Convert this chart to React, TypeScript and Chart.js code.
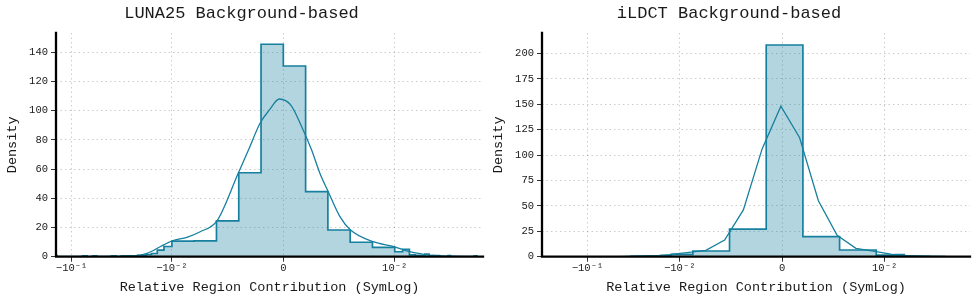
import React, { useEffect, useRef } from 'react';
import { Chart, registerables, LinearScale } from 'chart.js';

// ---------- data ----------
const xTickValues = [-0.1, -0.01, 0, 0.01];
const xTickLabels = ['\u221210\u207B\u00B9', '\u221210\u207B\u00B2', '0', '10\u207B\u00B2'];

const lunaEdges = [-0.142, -0.14, -0.078, -0.07, -0.062, -0.056, -0.04, -0.036, -0.032, -0.022, -0.02, -0.018, -0.016, -0.014, -0.012, -0.01, -0.008, -0.006, -0.004, -0.002, 0, 0.002, 0.004, 0.006, 0.008, 0.01, 0.012, 0.014, 0.016, 0.018, 0.02, 0.022, 0.024, 0.028, 0.034, 0.036, 0.062, 0.066];
const lunaDensity = [0.7, 0, 0.5, 0, 0.5, 0, 0.6, 0, 0.6, 0.9, 1.1, 1.5, 2.2, 4.5, 7.0, 10.6, 10.9, 24.5, 57.5, 145.5, 130.6, 44.5, 18.3, 9.9, 6.4, 3.4, 5.0, 1.2, 1.0, 0.8, 1.8, 0.6, 0.8, 0, 0.8, 0, 0.6];
const lunaKdeX = [-0.142, -0.06, -0.035, -0.0242, -0.0177, -0.0131, -0.00997, -0.00865, -0.00746, -0.00596, -0.00403, -0.00313, -0.00209, -0.00125, -0.00036, 0.00069, 0.00165, 0.00254, 0.00329, 0.00403, 0.00508, 0.00603, 0.00806, 0.01, 0.0141, 0.0222, 0.0352, 0.066];
const lunaKdeY = [0, 0.05, 0.2, 0.5, 2.3, 6.8, 10.8, 13.3, 17.1, 24.5, 57.5, 73, 91.4, 100.5, 108, 103.7, 89, 73, 57, 44.5, 27.4, 18.3, 10.3, 6.8, 3.4, 1.1, 0.3, 0];

const ildctEdges = [-0.03378, -0.0302, -0.02662, -0.02304, -0.01946, -0.01588, -0.0123, -0.00872, -0.00514, -0.00156, 0.00202, 0.0056, 0.00918, 0.01276, 0.01634, 0.01992, 0.0235, 0.02708, 0.03066, 0.03424, 0.03782, 0.0414, 0.04498];
const ildctDensity = [0.3, 0.3, 0.4, 0.5, 0.8, 1.2, 2.2, 5.6, 27.2, 208.2, 19.7, 6.6, 1.6, 2.0, 0.6, 0.4, 0.3, 0.3, 0.2, 0, 0.2, 0.2];
const ildctKdeX = [-0.045, -0.03, -0.0203, -0.0166, -0.0148, -0.0129, -0.0111, -0.0093, -0.00745, -0.00562, -0.00379, -0.00196, -0.00013, 0.0017, 0.00353, 0.00536, 0.00719, 0.00902, 0.01085, 0.01268, 0.01451, 0.0204, 0.03, 0.045];
const ildctKdeY = [0.1, 0.5, 1.0, 1.3, 1.6, 2.0, 2.7, 4.0, 6.2, 16.4, 46, 106, 148, 117, 55, 21, 8.2, 5.2, 3.0, 1.8, 1.2, 0.7, 0.3, 0.1];

// ---------- symlog scale ----------
const LINTHRESH = 0.01;
const LINSCALE = 1 / (1 - 1 / 10);
function fwd(v: number) {
  const a = Math.abs(v);
  return a <= LINTHRESH ? (v / LINTHRESH) * LINSCALE : Math.sign(v) * (LINSCALE + Math.log10(a / LINTHRESH));
}
function inv(t: number) {
  const a = Math.abs(t);
  return a <= LINSCALE ? (t / LINSCALE) * LINTHRESH : Math.sign(t) * LINTHRESH * Math.pow(10, a - LINSCALE);
}

class SymLogScale extends (LinearScale as any) {
  static id = 'symlog';
  static defaults = {};
  buildTicks() {
    return xTickValues.filter((v) => v >= this.min && v <= this.max).map((v) => ({ value: v }));
  }
  getPixelForValue(value: number) {
    const t0 = fwd(this.min), t1 = fwd(this.max);
    return this.getPixelForDecimal((fwd(value) - t0) / (t1 - t0));
  }
  getValueForPixel(pixel: number) {
    const t0 = fwd(this.min), t1 = fwd(this.max);
    return inv(t0 + this.getDecimalForPixel(pixel) * (t1 - t0));
  }
}

Chart.register(...registerables, SymLogScale as any);

const FONT = '"Liberation Mono", "DejaVu Sans Mono", monospace';
const TEAL = '#17809f';
const FILL = 'rgba(23,128,159,0.33)';
const GRID = 'rgba(0,0,0,0.2)';
const TEXT = '#1a1a1a';

const spinePlugin = {
  id: 'spines',
  afterDatasetsDraw(chart: any) {
    const { ctx, chartArea } = chart;
    const { left, right, top, bottom } = chartArea;
    ctx.save();
    ctx.strokeStyle = '#000';
    ctx.lineWidth = 2.3;
    ctx.lineCap = 'square';
    ctx.beginPath();
    ctx.moveTo(left, top);
    ctx.lineTo(left, bottom);
    ctx.lineTo(right, bottom);
    ctx.stroke();
    ctx.restore();
  },
};

type Panel = {
  title: string;
  edges: number[];
  density: number[];
  kdeX: number[];
  kdeY: number[];
  xMin: number;
  xMax: number;
  yMax: number;
  yStep: number;
  yWidth: number;
  padRight: number;
  yTitlePad: number;
  smooth: boolean;
};

function makeChart(canvas: HTMLCanvasElement, p: Panel) {
  const hist = [{ x: p.edges[0], y: 0 }]
    .concat(p.density.map((d, i) => ({ x: p.edges[i], y: d })))
    .concat([{ x: p.edges[p.edges.length - 1], y: 0 }]);
  const kde = p.kdeX.map((x, i) => ({ x, y: p.kdeY[i] }));
  const gridOpts = {
    color: GRID,
    lineWidth: 1,
    tickColor: '#333',
    tickWidth: 1,
    tickLength: 5,
    tickBorderDash: [],
  };
  const borderOpts = { display: false, dash: [1.5, 3] };
  return new Chart(canvas, {
    type: 'line',
    data: {
      datasets: [
        {
          data: hist,
          stepped: true,
          borderColor: TEAL,
          borderWidth: 1.7,
          backgroundColor: FILL,
          fill: 'origin',
          pointRadius: 0,
          order: 2,
        },
        {
          data: kde,
          borderColor: TEAL,
          borderWidth: 1.3,
          fill: false,
          pointRadius: 0,
          tension: 0,
          cubicInterpolationMode: p.smooth ? 'monotone' : 'default',
          order: 1,
        },
      ],
    } as any,
    options: {
      responsive: false,
      animation: false,
      events: [],
      layout: { padding: { left: 0, right: p.padRight, top: 0, bottom: 0 } },
      plugins: {
        legend: { display: false },
        tooltip: { enabled: false },
        title: {
          display: true,
          text: p.title,
          color: TEXT,
          font: { family: FONT, size: 17, weight: 'normal' },
          padding: { top: 2.8, bottom: 9.8 },
        },
      },
      scales: {
        x: {
          type: 'symlog',
          min: p.xMin,
          max: p.xMax,
          afterFit: (s: any) => {
            s.height = 44.3;
          },
          border: borderOpts,
          grid: gridOpts,
          ticks: {
            autoSkip: false,
            maxRotation: 0,
            padding: 0.5,
            color: TEXT,
            font: { family: FONT, size: 10.5 },
            callback: (v: any) => xTickLabels[xTickValues.indexOf(Number(v))] ?? '',
          },
          title: {
            display: true,
            text: 'Relative Region Contribution (SymLog)',
            color: TEXT,
            font: { family: FONT, size: 13.5 },
            padding: { top: 0, bottom: 5 },
          },
        },
        y: {
          type: 'linear',
          min: 0,
          max: p.yMax,
          afterFit: (s: any) => {
            s.width = p.yWidth;
          },
          border: borderOpts,
          grid: gridOpts,
          ticks: {
            stepSize: p.yStep,
            includeBounds: false,
            padding: 3,
            color: TEXT,
            font: { family: FONT, size: 10.5 },
          },
          title: {
            display: true,
            text: 'Density',
            color: TEXT,
            font: { family: FONT, size: 13.5 },
            padding: { top: p.yTitlePad, bottom: 0 },
          },
        },
      },
    } as any,
    plugins: [spinePlugin],
  });
}

const panels: Panel[] = [
  {
    title: 'LUNA25 Background-based',
    edges: lunaEdges,
    density: lunaDensity,
    kdeX: lunaKdeX,
    kdeY: lunaKdeY,
    xMin: -0.1432,
    xMax: 0.0759,
    yMax: 153.2,
    yStep: 20,
    yWidth: 56,
    padRight: 5,
    yTitlePad: 4.4,
    smooth: true,
  },
  {
    title: 'iLDCT Background-based',
    edges: ildctEdges,
    density: ildctDensity,
    kdeX: ildctKdeX,
    kdeY: ildctKdeY,
    xMin: -0.3116,
    xMax: 0.0842,
    yMax: 220,
    yStep: 25,
    yWidth: 54,
    padRight: 6,
    yTitlePad: 2.4,
    smooth: false,
  },
];

export default function App() {
  const ref1 = useRef<HTMLCanvasElement>(null);
  const ref2 = useRef<HTMLCanvasElement>(null);
  useEffect(() => {
    const c1 = makeChart(ref1.current!, panels[0]);
    const c2 = makeChart(ref2.current!, panels[1]);
    return () => {
      c1.destroy();
      c2.destroy();
    };
  }, []);
  return (
    <div style={{ position: 'absolute', left: 0, top: 0, width: 976, height: 301, background: '#fff' }}>
      <canvas ref={ref1} width={488} height={301} style={{ position: 'absolute', left: 0, top: 0 }} />
      <canvas ref={ref2} width={488} height={301} style={{ position: 'absolute', left: 488, top: 0 }} />
    </div>
  );
}
